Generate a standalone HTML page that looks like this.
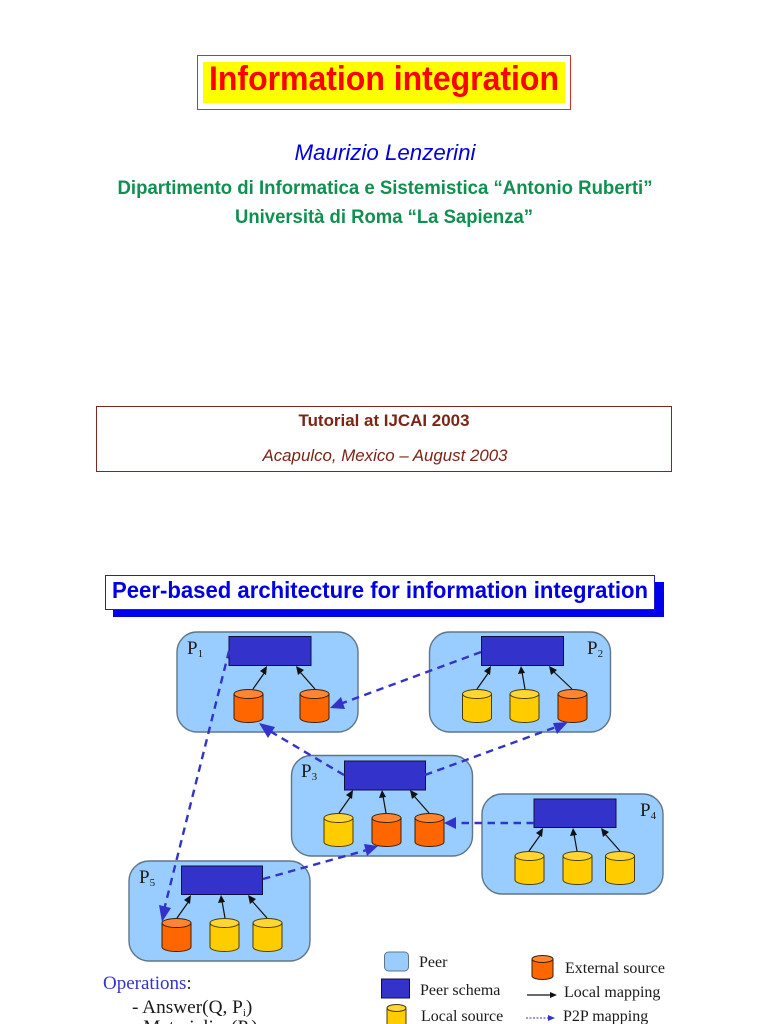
<!DOCTYPE html>
<html><head><meta charset="utf-8"><style>
html,body{margin:0;padding:0;background:#fff;width:768px;height:1024px;overflow:hidden}
svg{display:block}
.s{font-family:"Liberation Sans",sans-serif}
.t{font-family:"Liberation Serif",serif;fill:#1a1a1a}
.peer{fill:#99ccff;stroke:#5f7688;stroke-width:1.4}
.sch{fill:#3333cc;stroke:#101040;stroke-width:1}
.d{stroke:#3333cc;stroke-width:2.4;stroke-dasharray:7.5 5.5;fill:none}
.a{fill:#3333cc}
.l{stroke:#111;stroke-width:1.2;fill:none}
.h{fill:#111}
</style></head><body>
<svg width="768" height="1024" viewBox="0 0 768 1024" xmlns="http://www.w3.org/2000/svg">
<defs>
<g id="o"><path d="M0 5V29A14.5 4.5 0 0 0 29 29V5Z" fill="#ff6600" stroke="#3a2000"/><ellipse cx="14.5" cy="5" rx="14.5" ry="4.5" fill="#ff8533" stroke="#3a2000"/></g>
<g id="y"><path d="M0 5V29A14.5 4.5 0 0 0 29 29V5Z" fill="#ffcc00" stroke="#4a3c00"/><ellipse cx="14.5" cy="5" rx="14.5" ry="4.5" fill="#ffd633" stroke="#4a3c00"/></g>
</defs>

<!-- Title -->
<rect x="197.5" y="55.5" width="373" height="54" fill="#fff" stroke="#d03030"/>
<rect x="203" y="62" width="362" height="41" fill="#ffff00"/>
<text x="384" y="90" text-anchor="middle" class="s" font-size="34" font-weight="bold" fill="#ff0000" textLength="350" lengthAdjust="spacingAndGlyphs">Information integration</text>
<text x="385" y="160" text-anchor="middle" class="s" font-size="22.500" font-style="italic" fill="#0000e0" textLength="181" lengthAdjust="spacingAndGlyphs">Maurizio Lenzerini</text>
<text x="385" y="194" text-anchor="middle" class="s" font-size="19" font-weight="bold" fill="#109050" textLength="535" lengthAdjust="spacingAndGlyphs">Dipartimento di Informatica e Sistemistica “Antonio Ruberti”</text>
<text x="384" y="223" text-anchor="middle" class="s" font-size="19" font-weight="bold" fill="#109050" textLength="298" lengthAdjust="spacingAndGlyphs">Università di Roma “La Sapienza”</text>

<!-- Tutorial -->
<rect x="96.5" y="406.5" width="575" height="65" fill="#fff" stroke="#7a2a20"/>
<text x="384" y="426" text-anchor="middle" class="s" font-size="17" font-weight="bold" fill="#7a2515" textLength="171" lengthAdjust="spacingAndGlyphs">Tutorial at IJCAI 2003</text>
<text x="385" y="461" text-anchor="middle" class="s" font-size="17" font-style="italic" fill="#7a2515" textLength="245" lengthAdjust="spacingAndGlyphs">Acapulco, Mexico – August 2003</text>

<!-- Section heading -->
<rect x="113" y="582" width="551" height="35" fill="#0000ee"/>
<rect x="105.5" y="575.5" width="549" height="34" fill="#fff" stroke="#2020c0"/>
<text x="380" y="598" text-anchor="middle" class="s" font-size="23" font-weight="bold" fill="#0000e0" textLength="536" lengthAdjust="spacingAndGlyphs">Peer-based architecture for information integration</text>

<!-- Peers -->
<rect class="peer" x="177" y="632" width="181" height="100" rx="20"/>
<rect class="peer" x="429.500" y="632" width="181" height="100" rx="20"/>
<rect class="peer" x="291.500" y="755.500" width="181" height="100.500" rx="20"/>
<rect class="peer" x="482" y="794" width="181" height="100" rx="20"/>
<rect class="peer" x="129" y="861" width="181" height="100" rx="20"/>

<!-- Schemas -->
<rect class="sch" x="229" y="636.500" width="82" height="29"/>
<rect class="sch" x="481.500" y="636.500" width="82" height="29"/>
<rect class="sch" x="344.500" y="761" width="81" height="29"/>
<rect class="sch" x="534" y="799" width="82" height="28.500"/>
<rect class="sch" x="181.500" y="866" width="81" height="28.500"/>

<!-- Cylinders -->
<use href="#o" x="234" y="689"/><use href="#o" x="300" y="689"/>
<use href="#y" x="462.500" y="689"/><use href="#y" x="510" y="689"/><use href="#o" x="558" y="689"/>
<use href="#y" x="324" y="813"/><use href="#o" x="372" y="813"/><use href="#o" x="415" y="813"/>
<use href="#y" x="515" y="851"/><use href="#y" x="563" y="851"/><use href="#y" x="605.500" y="851"/>
<use href="#o" x="162" y="918"/><use href="#y" x="210" y="918"/><use href="#y" x="253" y="918"/>

<!-- Local mappings -->
<g class="l">
<path d="M253 689L265 672"/><path d="M315 689L300 672"/>
<path d="M477 689L489 672"/><path d="M525 689L522 672"/><path d="M572 689L553 671"/>
<path d="M339 813L351 796"/><path d="M386 813L383 796"/><path d="M429 813L414 796"/>
<path d="M529 851L541 834"/><path d="M577 851L574 834"/><path d="M620 851L605 834"/>
<path d="M177 918L189 901"/><path d="M225 918L222 901"/><path d="M267 918L252 901"/>
</g>
<g class="h">
<path d="M267 666L266 675L260 671Z"/><path d="M296 666L304 670L298 675Z"/>
<path d="M491 666L490 675L484 671Z"/><path d="M521 666L525 673L518 674Z"/><path d="M549 666L557 670L551 675Z"/>
<path d="M353 790L352 799L346 795Z"/><path d="M382 790L386 797L379 798Z"/><path d="M410 790L418 794L412 799Z"/>
<path d="M543 828L542 837L536 833Z"/><path d="M573 828L577 835L570 836Z"/><path d="M601 828L609 832L603 837Z"/>
<path d="M191 895L190 904L184 900Z"/><path d="M221 895L225 902L218 903Z"/><path d="M248 895L256 899L250 904Z"/>
</g>

<!-- P2P mappings -->
<path class="d" d="M229 651L164 910"/>
<path class="a" d="M162 922L159 905L171 908Z"/>
<path class="d" d="M481 652L340 704"/>
<path class="a" d="M330 708L341 697L345 709Z"/>
<path class="d" d="M344 775L268 730"/>
<path class="a" d="M259 723L275 727L268 738Z"/>
<path class="d" d="M425 775L556 727"/>
<path class="a" d="M568 722L557 734L553 723Z"/>
<path class="d" d="M534 823L454 823"/>
<path class="a" d="M444 823L456 817L456 829Z"/>
<path class="d" d="M263 879L367 850"/>
<path class="a" d="M378 846L367 856L364 844Z"/>

<!-- Peer labels -->
<g class="t">
<text x="187" y="654" font-size="19">P<tspan font-size="11" dy="3">1</tspan></text>
<text x="587" y="654" font-size="19">P<tspan font-size="11" dy="3">2</tspan></text>
<text x="301" y="777" font-size="19">P<tspan font-size="11" dy="3">3</tspan></text>
<text x="640" y="816" font-size="19">P<tspan font-size="11" dy="3">4</tspan></text>
<text x="139" y="883" font-size="19">P<tspan font-size="11" dy="3">5</tspan></text>
</g>

<!-- Operations -->
<text x="103" y="989" font-family="Liberation Serif,serif" font-size="19"><tspan fill="#3333cc">Operations</tspan><tspan fill="#222">:</tspan></text>
<text x="132" y="1013" class="t" font-size="19.300">- Answer(Q, P<tspan font-size="11" dy="3">i</tspan><tspan dy="-3">)</tspan></text>
<text x="132" y="1033" class="t" font-size="19.300">- Materialize(P<tspan font-size="11" dy="3">i</tspan><tspan dy="-3">)</tspan></text>

<!-- Legend -->
<rect x="384.500" y="952" width="24" height="19" rx="4" fill="#99ccff" stroke="#5f7688"/>
<rect x="381.500" y="979" width="28" height="19" fill="#3333cc" stroke="#101040"/>
<path d="M387 1008V1030H406V1008Z" fill="#ffcc00" stroke="#4a3c00"/><ellipse cx="396.500" cy="1008" rx="9.500" ry="3.500" fill="#ffd633" stroke="#4a3c00"/>
<path d="M532 959V976A10.500 3.500 0 0 0 553 976V959Z" fill="#ff6600" stroke="#3a2000"/><ellipse cx="542.500" cy="959" rx="10.500" ry="3.500" fill="#ff8533" stroke="#3a2000"/>
<g class="t" font-size="16">
<text x="419" y="967">Peer</text>
<text x="420" y="995">Peer schema</text>
<text x="421" y="1021">Local source</text>
<text x="565" y="973">External source</text>
<text x="564" y="997">Local mapping</text>
<text x="563" y="1021">P2P mapping</text>
</g>
<path d="M527 995H552" stroke="#111" stroke-width="1.200"/><path d="M557 995L550 992V998Z" fill="#111"/>
<path d="M526 1018H549" stroke="#3333cc" stroke-width="1" stroke-dasharray="2 1.500"/><path d="M555 1018L548 1015V1021Z" fill="#3333cc"/>
</svg>
</body></html>
